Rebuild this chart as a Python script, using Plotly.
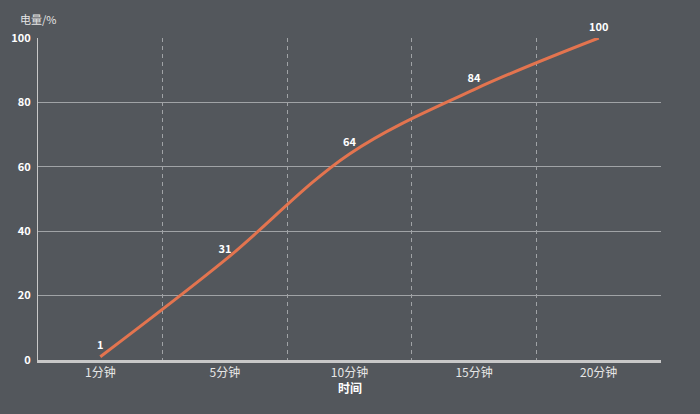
import plotly.graph_objects as go

categories = ["1分钟", "5分钟", "10分钟", "15分钟", "20分钟"]
values = [1, 31, 64, 84, 100]
y_ticks = [0, 20, 40, 60, 80, 100]

x_pos = list(range(len(categories)))

font_family = "Noto Sans CJK SC, Noto Sans, sans-serif"
line_color = "#e3744f"

fig = go.Figure()
fig.add_trace(go.Scatter(
    x=x_pos, y=values,
    mode="lines+markers+text",
    line=dict(color=line_color, width=3, shape="spline", smoothing=1),
    marker=dict(color=line_color, size=6, opacity=0),
    text=[str(v) for v in values],
    textposition="top center",
    textfont=dict(color="#ffffff", size=11, family=font_family, weight="bold"),
    hoverinfo="skip",
    cliponaxis=False,
))

fig.update_layout(
    width=700, height=414,
    paper_bgcolor="#53575c",
    plot_bgcolor="#53575c",
    margin=dict(l=38, r=39, t=38, b=54),
    showlegend=False,
    font=dict(family=font_family, color="#e6e6e6", size=12),
    xaxis=dict(
        range=[-0.5, len(categories) - 0.5],
        tickvals=x_pos,
        ticktext=categories,
        showgrid=False,
        zeroline=False,
        showline=True,
        linecolor="#c8c8c8",
        linewidth=3,
        ticks="",
        tickfont=dict(size=12, color="#e6e6e6"),
        minor=dict(
            tick0=0.5, dtick=1,
            showgrid=True, griddash="4px,4px",
            gridcolor="#a0a3a6", gridwidth=1,
            ticks="",
        ),
        fixedrange=True,
    ),
    yaxis=dict(
        range=[0, 100],
        tickvals=y_ticks,
        showgrid=True,
        gridcolor="#a0a3a6",
        gridwidth=1,
        zeroline=False,
        showline=True,
        linecolor="#c8c8c8",
        linewidth=1,
        ticks="",
        tickfont=dict(size=11, color="#ffffff", weight="bold"),
        ticklabelstandoff=4,
        fixedrange=True,
    ),
    annotations=[
        dict(
            text="电量/%", xref="paper", yref="paper",
            x=0.0, xanchor="center", y=1.0, yanchor="bottom",
            yshift=9, showarrow=False,
            font=dict(size=11, color="#e6e6e6", family=font_family),
        ),
        dict(
            text="时间", xref="paper", yref="paper",
            x=0.5, xanchor="center", y=0.0, yanchor="top",
            yshift=-17, showarrow=False,
            font=dict(size=12, color="#ffffff", family=font_family, weight="bold"),
        ),
    ],
)

fig.write_html(
    "out.html",
    config={"displayModeBar": False},
    post_script="document.body.style.margin='0';document.body.style.overflow='hidden';",
)
